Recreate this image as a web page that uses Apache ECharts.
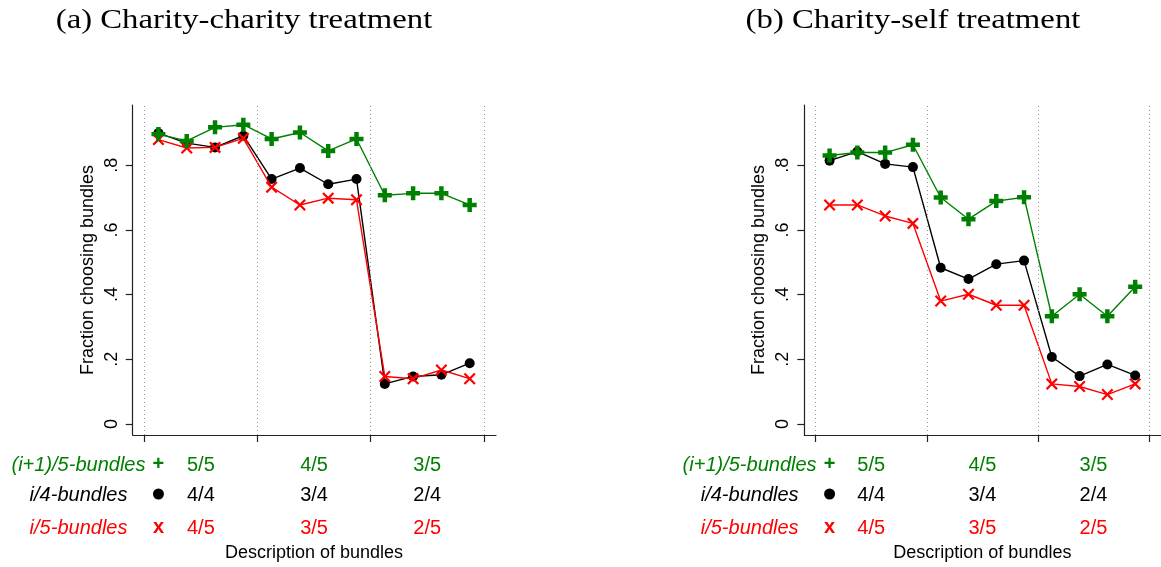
<!DOCTYPE html>
<html>
<head>
<meta charset="utf-8">
<script src="https://cdn.jsdelivr.net/npm/echarts@6/dist/echarts.min.js"></script>
<style>
  html, body { margin: 0; padding: 0; background: #fff; }
  #chart { width: 1161px; height: 567px; }
</style>
</head>
<body>
<div id="chart"></div>
<script>
// Fraction of subjects choosing each bundle, 12 bundles per treatment
const panelTitles = ['(a) Charity-charity treatment', '(b) Charity-self treatment'];
const seriesNames = ['(i+1)/5-bundles', 'i/4-bundles', 'i/5-bundles'];

// Charity-charity treatment
const ccPlus  = [0.896, 0.875, 0.917, 0.925, 0.881, 0.901, 0.844, 0.881, 0.707, 0.713, 0.713, 0.677];
const ccDot   = [0.899, 0.868, 0.855, 0.891, 0.757, 0.791, 0.741, 0.757, 0.124, 0.147, 0.152, 0.188];
const ccCross = [0.879, 0.853, 0.855, 0.883, 0.732, 0.677, 0.698, 0.693, 0.147, 0.140, 0.167, 0.140];

// Charity-self treatment
const csPlus  = [0.830, 0.839, 0.839, 0.863, 0.700, 0.633, 0.689, 0.701, 0.333, 0.401, 0.333, 0.424];
const csDot   = [0.814, 0.842, 0.804, 0.794, 0.483, 0.448, 0.494, 0.505, 0.207, 0.148, 0.184, 0.150];
const csCross = [0.677, 0.677, 0.643, 0.620, 0.380, 0.401, 0.367, 0.367, 0.124, 0.116, 0.091, 0.124];

// Axis ticks and group labels
const yTicks = [0, 0.2, 0.4, 0.6, 0.8];
const xTicks = [0.5, 4.5, 8.5, 12.5];
const groupCenters = [2.5, 6.5, 10.5];
const plusLabels  = ['5/5', '4/5', '3/5'];
const dotLabels   = ['4/4', '3/4', '2/4'];
const crossLabels = ['4/5', '3/5', '2/5'];
const xAxisTitle = 'Description of bundles';
const yAxisTitle = 'Fraction choosing bundles';

const GREEN = '#008000', BLACK = '#000000', RED = '#ff0000';
const SANS = '"Liberation Sans", Arial, Helvetica, sans-serif';
const SERIF = '"Liberation Serif", "Times New Roman", serif';

const PLUS_SYMBOL = 'path://M3.4,0H6.6V3.4H10V6.6H6.6V10H3.4V6.6H0V3.4H3.4Z';
const CROSS_SYMBOL = 'path://M0,1.3L1.3,0L5,3.7L8.7,0L10,1.3L6.3,5L10,8.7L8.7,10L5,6.3L1.3,10L0,8.7L3.7,5Z';

const panels = [
  { left: 132.7, plus: ccPlus, dot: ccDot, cross: ccCross },
  { left: 804.3, plus: csPlus, dot: csDot, cross: csCross }
];

const toPairs = vals => vals.map((v, i) => [i + 1, v]);

const grids = [], xAxes = [], yAxes = [], series = [];
panels.forEach((p, g) => {
  grids.push({ left: p.left, top: 105, width: 363.3, height: 330, containLabel: false });
  xAxes.push({
    type: 'value', gridIndex: g, min: 0.09, max: 12.93,
    axisLine: { show: true, onZero: false, lineStyle: { color: '#222', width: 1.2 } },
    axisTick: { show: true, length: 7, customValues: xTicks, lineStyle: { color: '#222', width: 1.2 } },
    axisLabel: { show: false },
    splitLine: { show: false }
  });
  yAxes.push({
    type: 'value', gridIndex: g, min: -0.034, max: 0.986,
    name: yAxisTitle, nameLocation: 'middle', nameGap: 36, nameRotate: 90,
    nameTextStyle: { fontFamily: SANS, fontSize: 18, color: '#000' },
    axisLine: { show: true, onZero: false, lineStyle: { color: '#222', width: 1.2 } },
    axisTick: { show: true, length: 7, customValues: yTicks, lineStyle: { color: '#222', width: 1.2 } },
    axisLabel: {
      customValues: yTicks, rotate: 90, margin: 12,
      fontFamily: SANS, fontSize: 18, color: '#000',
      formatter: v => (v === 0 ? '0' : String(+v.toFixed(1)).replace(/^0/, ''))
    },
    splitLine: { show: false }
  });
  const base = { type: 'line', xAxisIndex: g, yAxisIndex: g, silent: true, animation: false };
  series.push(Object.assign({}, base, {
    name: seriesNames[1], data: toPairs(p.dot), z: 2,
    symbol: 'circle', symbolSize: 10,
    itemStyle: { color: BLACK }, lineStyle: { color: BLACK, width: 1.4 },
    markLine: {
      silent: true, symbol: 'none', animation: false, label: { show: false },
      lineStyle: { type: [1, 3], color: '#9a9a9a', width: 1 },
      data: xTicks.map(x => ({ xAxis: x }))
    }
  }));
  series.push(Object.assign({}, base, {
    name: seriesNames[2], data: toPairs(p.cross), z: 3,
    symbol: CROSS_SYMBOL, symbolSize: 12,
    itemStyle: { color: RED }, lineStyle: { color: RED, width: 1.4 }
  }));
  series.push(Object.assign({}, base, {
    name: seriesNames[0], data: toPairs(p.plus), z: 4,
    symbol: PLUS_SYMBOL, symbolSize: 14,
    itemStyle: { color: GREEN }, lineStyle: { color: GREEN, width: 1.4 }
  }));
});

const chart = echarts.init(document.getElementById('chart'), null, { renderer: 'canvas' });
chart.setOption({
  backgroundColor: '#fff',
  animation: false,
  grid: grids, xAxis: xAxes, yAxis: yAxes, series: series
});

// Row labels beneath each panel, placed along the panel's x scale
const rowY = [465, 495, 528];
const descY = 553;
const graphics = [];
const px = (g, x) => chart.convertToPixel({ gridIndex: g }, [x, 0])[0];

[244, 913].forEach((cx, g) => {
  graphics.push({
    type: 'text', x: cx, y: 21, scaleX: 1.17, originX: 0, silent: true,
    style: { text: panelTitles[g], fontFamily: SERIF, fontSize: 28, fill: '#000',
             align: 'center', verticalAlign: 'middle' }
  });
});

panels.forEach((p, g) => {
  const mx = px(g, 1);
  const rows = [
    { name: seriesNames[0], color: GREEN, labels: plusLabels, gap: 13, glyph: '+' },
    { name: seriesNames[1], color: BLACK, labels: dotLabels, gap: 31, glyph: null },
    { name: seriesNames[2], color: RED, labels: crossLabels, gap: 31, glyph: 'x' }
  ];
  rows.forEach((r, k) => {
    const y = rowY[k];
    graphics.push({
      type: 'text', x: mx - r.gap, y: y, silent: true,
      style: { text: r.name, fontFamily: SANS, fontSize: 20, fontStyle: 'italic',
               fill: r.color, align: 'right', verticalAlign: 'middle' }
    });
    if (r.glyph) {
      graphics.push({
        type: 'text', x: mx, y: y - 1, silent: true,
        style: { text: r.glyph, fontFamily: SANS, fontSize: 20, fontWeight: 'bold',
                 fill: r.color, align: 'center', verticalAlign: 'middle' }
      });
    } else {
      graphics.push({
        type: 'circle', shape: { cx: mx, cy: y - 1, r: 5.5 }, silent: true,
        style: { fill: r.color }
      });
    }
    r.labels.forEach((lab, j) => {
      graphics.push({
        type: 'text', x: px(g, groupCenters[j]), y: y, silent: true,
        style: { text: lab, fontFamily: SANS, fontSize: 20, fill: r.color,
                 align: 'center', verticalAlign: 'middle' }
      });
    });
  });
  graphics.push({
    type: 'text', x: px(g, (xTicks[0] + xTicks[xTicks.length - 1]) / 2), y: descY, silent: true,
    style: { text: xAxisTitle, fontFamily: SANS, fontSize: 18, fill: '#000',
             align: 'center', verticalAlign: 'middle' }
  });
});

chart.setOption({ graphic: graphics });
</script>
</body>
</html>
